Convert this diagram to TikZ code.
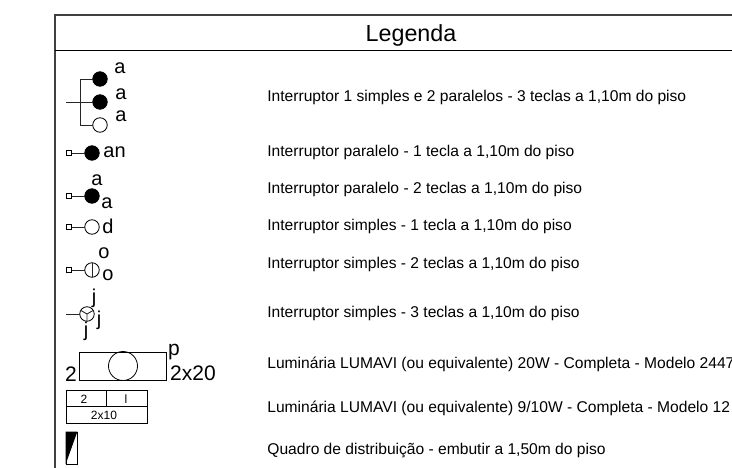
\documentclass[tikz,border=0pt]{standalone}
\usepackage{fontspec}
\setmainfont{Liberation Sans}
\begin{document}
\begin{tikzpicture}[x=1pt,y=-1pt,
  line width=0.8pt,
  frame/.style={draw=black!75,line width=1.3pt},
  hline/.style={draw=black,line width=0.9pt},
  ln/.style={draw=black!85,line width=0.9pt},
  lamp/.style={circle,draw=black,line width=0.8pt,minimum size=14.5pt,inner sep=0pt,outer sep=0pt},
  on/.style={lamp,fill=black},
  off/.style={lamp,fill=white},
  sq/.style={rectangle,draw=black,line width=0.7pt,fill=white,minimum size=5.5pt,inner sep=0pt,outer sep=0pt},
  desc/.style={anchor=base west,inner sep=0pt,font=\fontsize{15.6}{15.6}\selectfont},
  sym/.style={inner sep=0pt,font=\fontsize{20}{20}\selectfont},
  symb/.style={inner sep=0pt,font=\fontsize{21}{21}\selectfont},
  small/.style={inner sep=0pt,font=\fontsize{12}{12}\selectfont}]
\useasboundingbox (0,0) rectangle (732,468);
\clip (0,0) rectangle (732,468);
\fill[white] (0,0) rectangle (732,468);
\coordinate (tl) at (55,15); \coordinate (tr) at (732,15);
\coordinate (bl) at (55,468); \coordinate (hl) at (55,50); \coordinate (hr) at (732,50);
\draw[frame] (bl) -- (tl) -- (tr);
\draw[hline] (hl) -- (hr);
\node[anchor=base,inner sep=0pt,font=\fontsize{23.3}{23.3}\selectfont] (title) at (411,42) {Legenda};
% row 1
\node[on] (c1) at (100,79) {}; \node[on] (c2) at (100,102) {}; \node[off] (c3) at (100,125) {};
\coordinate (j1) at (80,79); \coordinate (j3) at (80,125); \coordinate (s2) at (66,102);
\draw[ln] (c1) -- (j1) -- (j3) -- (c3);
\draw[ln] (s2) -- (c2);
\node[sym] (a1) at (120,68) {a}; \node[sym] (a2) at (121,94) {a}; \node[sym] (a3) at (121,116) {a};
\node[desc] (t1) at (267,102) {Interruptor 1 simples e 2 paralelos - 3 teclas a 1,10m do piso};
% row 2
\node[sq] (s3) at (69,153) {}; \node[on] (c4) at (92,153) {}; \draw[ln] (s3) -- (c4);
\node[sym,anchor=west] (an) at (103,152) {an};
\node[desc] (t2) at (267,157) {Interruptor paralelo - 1 tecla a 1,10m do piso};
% row 3
\node[sq] (s4) at (69,196) {}; \node[on] (c5) at (92,196) {}; \draw[ln] (s4) -- (c5);
\node[sym] (a4) at (97,180) {a}; \node[sym] (a5) at (107,203) {a};
\node[desc] (t3) at (267,194) {Interruptor paralelo - 2 teclas a 1,10m do piso};
% row 4
\node[sq] (s5) at (69,227) {}; \node[off] (c6) at (92,227) {}; \draw[ln] (s5) -- (c6);
\node[sym] (d) at (108,226) {d};
\node[desc] (t4) at (267,231) {Interruptor simples - 1 tecla a 1,10m do piso};
% row 5
\node[sq] (s6) at (69,270) {}; \node[off] (c7) at (92,270) {}; \draw[ln] (s6) -- (c7);
\draw[ln] (c7.north) -- (c7.south);
\node[sym] (o1) at (104,253) {o}; \node[sym] (o2) at (108,275) {o};
\node[desc] (t5) at (267,269) {Interruptor simples - 2 teclas a 1,10m do piso};
% row 6
\coordinate (s7) at (66,314); \node[off] (c8) at (87,314) {}; \draw[ln] (s7) -- (c8);
\coordinate (cc) at (87,314);
\draw[ln] (cc) -- (c8.south) (cc) -- (c8.30) (cc) -- (c8.150);
\node[sym] (j1t) at (94,298) {j}; \node[sym] (j2t) at (99,320) {j}; \node[sym] (j3t) at (86,331) {j};
\node[desc] (t6) at (267,318) {Interruptor simples - 3 teclas a 1,10m do piso};
% row 7
\node[rectangle,draw=black,line width=0.8pt,minimum width=87pt,minimum height=28pt,inner sep=0pt] (lum) at (122.5,366) {};
\node[circle,draw=black,line width=0.8pt,minimum size=29pt,inner sep=0pt] (lc) at (123,366) {};
\node[symb] (n2) at (71,374) {2}; \node[symb] (p) at (174,352) {p};
\node[symb] (n220) at (193,373) {2x20};
\node[desc] (t7) at (267,368) {Luminária LUMAVI (ou equivalente) 20W - Completa - Modelo 2447};
% row 8
\node[rectangle,draw=black,line width=0.8pt,minimum width=81pt,minimum height=33pt,inner sep=0pt] (tb) at (106.5,406.5) {};
\coordinate (ml) at (66,406.5); \coordinate (mr) at (147,406.5);
\coordinate (vt) at (106.5,390); \coordinate (vb) at (106.5,406.5);
\draw[line width=0.8pt] (ml) -- (mr) (vt) -- (vb);
\node[small] (q2) at (84,399) {2}; \node[small] (ql) at (126,399) {l}; \node[small] (q3) at (104,415) {2x10};
\node[desc] (t8) at (267,412) {Luminária LUMAVI (ou equivalente) 9/10W - Completa - Modelo 12};
% row 9
\node[rectangle,draw=black,line width=0.8pt,minimum width=11pt,minimum height=32pt,inner sep=0pt] (qd) at (71.5,448) {};
\fill[black] (qd.north west) -- (qd.north east) -- (qd.south west) -- cycle;
\node[desc] (t9) at (267,454) {Quadro de distribuição - embutir a 1,50m do piso};
\end{tikzpicture}
\end{document}
